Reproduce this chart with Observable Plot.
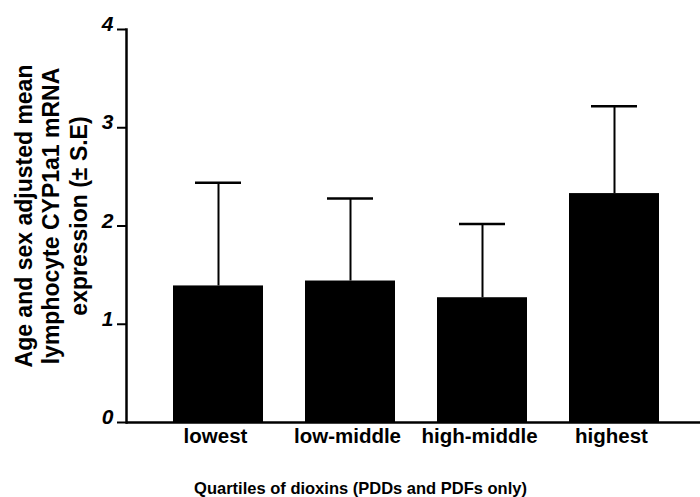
<!DOCTYPE html>
<html>
<head>
<meta charset="utf-8">
<script src="https://cdn.jsdelivr.net/npm/d3@7"></script>
<script src="https://cdn.jsdelivr.net/npm/@observablehq/plot@0.6"></script>
<style>
  html, body { margin: 0; padding: 0; background: #fff; }
  #chart svg { display: block; }
</style>
</head>
<body>
<div id="chart"></div>
<script>
const categories = ["lowest", "low-middle", "high-middle", "highest"];
const means = [1.39, 1.44, 1.27, 2.33];
const upperSE = [2.44, 2.28, 2.02, 3.22];
const yTicks = [0, 1, 2, 3, 4];
const yTitle = "Age and sex adjusted mean\nlymphocyte CYP1a1 mRNA\nexpression (\u00B1 S.E)";
const xTitle = "Quartiles of dioxins (PDDs and PDFs only)";

const data = categories.map((c, i) => ({cat: c, mean: means[i], upper: upperSE[i]}));
const font = "Liberation Sans, Arial, Helvetica, sans-serif";

const chart = Plot.plot({
  width: 700,
  height: 497,
  marginTop: 29,
  marginBottom: 75,
  marginLeft: 126,
  marginRight: 0,
  style: {fontFamily: font, color: "#000", background: "#fff"},
  x: {type: "band", domain: categories, range: [129, 703], paddingInner: 0.316, paddingOuter: 0.316, axis: null},
  y: {domain: [0, 4], axis: null},
  marks: [
    Plot.barY(data, {x: "cat", y: "mean", fill: "#000"}),
    Plot.ruleX(data, {x: "cat", y1: "mean", y2: "upper", stroke: "#000", strokeWidth: 2}),
    Plot.tickY(data, {x: "cat", y: "upper", stroke: "#000", strokeWidth: 2.5, insetLeft: 22, insetRight: 22}),
    Plot.ruleY([0], {stroke: "#000", strokeWidth: 2.5}),
    Plot.frame({anchor: "left", stroke: "#000", strokeWidth: 2.5}),
    Plot.axisY({ticks: yTicks, tickSize: 9, strokeWidth: 2, tickFormat: () => "", label: null}),
    Plot.axisY({ticks: yTicks, tickFormat: d => String(d), tickSize: 0, tickPadding: 13, fontSize: 21, fontWeight: "bold", fontStyle: "italic", dy: -5, label: null}),
    Plot.axisX({tickSize: 0, tickPadding: 6, fontSize: 20.5, fontWeight: "bold", dx: -3, label: null}),
    Plot.text([yTitle], {frameAnchor: "left", rotate: -90, dx: -76, dy: -10, lineHeight: 1.2, fontSize: 23, fontWeight: "bold", textAnchor: "middle", lineAnchor: "middle"}),
    Plot.text([xTitle], {frameAnchor: "bottom", dx: -53, dy: 66, fontSize: 16.5, fontWeight: "bold", textAnchor: "middle", lineAnchor: "middle"})
  ]
});
document.getElementById("chart").appendChild(chart);
</script>
</body>
</html>
